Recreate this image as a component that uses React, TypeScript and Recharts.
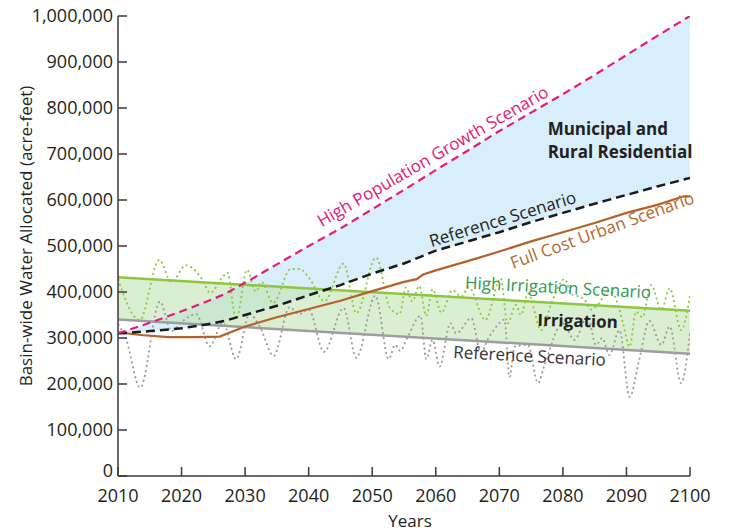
import React from 'react';
import { ComposedChart, Line, Area, XAxis, YAxis, ReferenceDot, Label } from 'recharts';

const FONT = '"Open Sans", "Noto Sans", sans-serif';

// ---- data (values in acre-feet, thousands) ----
const xTicks = [2010, 2020, 2030, 2040, 2050, 2060, 2070, 2080, 2090, 2100];
const yTicks = [0, 100000, 200000, 300000, 400000, 500000, 600000, 700000, 800000, 900000, 1000000];

const muniYears = [2010, 2015, 2020, 2025, 2027, 2030, 2035, 2040, 2045, 2050, 2055, 2060, 2065, 2070, 2075, 2080, 2085, 2090, 2095, 2100];
const highPop = [310, 333, 358, 385, 397, 420, 460, 500, 538, 580, 622, 665, 707, 750, 790, 830, 872, 915, 958, 1000];
const refMuni = [310, 315, 321, 332, 338, 350, 370, 393, 415, 440, 462, 490, 510, 530, 552, 572, 592, 611, 630, 648];

const fullCostYears = [2010, 2014, 2018, 2022, 2026, 2030, 2035, 2040, 2045, 2050, 2055, 2057, 2058, 2060, 2065, 2070, 2075, 2080, 2085, 2090, 2095, 2099, 2100];
const fullCost = [312, 306, 302, 302, 303, 325, 345, 363, 381, 402, 422, 428, 438, 447, 467, 488, 510, 530, 550, 572, 590, 608, 608];

const irrYears = [2010, 2100];
const highIrr = [432, 359];
const refIrr = [340, 266];

const greenDotYears = [2010, 2013.4, 2016.5, 2018.4, 2020.7, 2023.3, 2024.5, 2026.3, 2027.2, 2028.6, 2030.3, 2031.7, 2032.6, 2034.4, 2037.2, 2038.6, 2040, 2042.5, 2045.5, 2047.5, 2050.6, 2052.8, 2054.3, 2055.3, 2056.3, 2057.4, 2058.5, 2059.5, 2060.9, 2062.6, 2064, 2065.2, 2067.8, 2070.2, 2071.3, 2072.6, 2073.4, 2074.5, 2076.6, 2078.3, 2080.3, 2081.3, 2082.1, 2083.4, 2084.4, 2085.3, 2087.3, 2088.5, 2089.5, 2090.5, 2091.5, 2092.5, 2093.9, 2095.5, 2096.8, 2098.6, 2100];
const greenDotVals = [428, 339, 470, 422, 458, 426, 398, 430, 442, 341, 448, 401, 422, 376, 450, 450, 432, 380, 462, 354, 475, 365, 352, 410, 380, 413, 348, 406, 355, 404, 390, 410, 339, 430, 332, 372, 350, 397, 317, 380, 428, 395, 392, 383, 362, 370, 402, 380, 330, 281, 357, 345, 415, 361, 408, 317, 392];

const grayDotYears = [2010, 2011.2, 2013.5, 2016.6, 2018.4, 2020, 2022.3, 2024.4, 2026.5, 2028.6, 2030.7, 2032.3, 2034.5, 2037, 2038.5, 2040, 2042.4, 2045.5, 2047.5, 2050.5, 2052.6, 2053.6, 2054.4, 2055.5, 2057.6, 2058.5, 2059.5, 2060.6, 2062.3, 2063.2, 2065.6, 2067.1, 2068.3, 2070, 2070.8, 2071.6, 2072.4, 2074.5, 2076.1, 2077.1, 2080, 2081.8, 2083.9, 2085.2, 2086.2, 2087.3, 2088.9, 2090.5, 2092, 2093.6, 2095.5, 2096.8, 2098.6, 2100];
const grayDotVals = [330, 300, 192, 379, 315, 335, 352, 282, 333, 254, 352, 325, 261, 367, 352, 362, 270, 365, 257, 392, 254, 285, 272, 300, 348, 254, 296, 238, 332, 310, 343, 268, 300, 332, 340, 215, 281, 285, 202, 241, 332, 296, 346, 285, 300, 263, 317, 172, 252, 337, 285, 325, 202, 310];

// annotation anchors (data coordinates)
const annotations = [
  { lines: ['High Population Growth Scenario'], year: 2060.0, value: 684000, angle: -30, color: '#e0197d', weight: 400, anchor: 'middle' },
  { lines: ['Reference Scenario'], year: 2070.8, value: 546000, angle: -17, color: '#231f20', weight: 400, anchor: 'middle' },
  { lines: ['Full Cost Urban Scenario'], year: 2086.5, value: 522000, angle: -20, color: '#b8672e', weight: 400, anchor: 'middle' },
  { lines: ['High Irrigation Scenario'], year: 2079.2, value: 397000, angle: 3, color: '#2f9a4a', weight: 400, anchor: 'middle' },
  { lines: ['Irrigation'], year: 2082.3, value: 324000, angle: 1.5, color: '#231f20', weight: 700, anchor: 'middle' },
  { lines: ['Reference Scenario'], year: 2074.7, value: 248000, angle: 3, color: '#333333', weight: 400, anchor: 'middle' },
  { lines: ['Municipal and', 'Rural Residential'], year: 2077.6, value: 741000, angle: 0, color: '#231f20', weight: 700, anchor: 'start' },
];

// ---- derived tables ----
const k = (v: number) => v * 1000;
const muniArea = muniYears.map((y, i) => ({ year: y, range: [k(refMuni[i]), k(highPop[i])] }));
const highPopData = muniYears.map((y, i) => ({ year: y, v: k(highPop[i]) }));
const refMuniData = muniYears.map((y, i) => ({ year: y, v: k(refMuni[i]) }));
const fullCostData = fullCostYears.map((y, i) => ({ year: y, v: k(fullCost[i]) }));
const irrArea = irrYears.map((y, i) => ({ year: y, range: [k(refIrr[i]), k(highIrr[i])] }));
const highIrrData = irrYears.map((y, i) => ({ year: y, v: k(highIrr[i]) }));
const refIrrData = irrYears.map((y, i) => ({ year: y, v: k(refIrr[i]) }));
const greenDotData = greenDotYears.map((y, i) => ({ year: y, v: k(greenDotVals[i]) }));
const grayDotData = grayDotYears.map((y, i) => ({ year: y, v: k(grayDotVals[i]) }));

const fmt = (n: number) => n.toLocaleString('en-US');
const AXIS = '#3a3a3a';
const TXT = '#231f20';

const YTick = (props: any) => {
  const { x, y, payload } = props;
  const isZero = payload.value === 0;
  return (
    <g>
      <line x1={x} y1={y} x2={x + 9} y2={y} stroke={AXIS} strokeWidth={1.5} />
      <text x={x - 5} y={isZero ? y - 5 : y} dy="0.36em" textAnchor="end" fontSize={18} fontFamily={FONT} fill={TXT}>
        {fmt(payload.value)}
      </text>
    </g>
  );
};

const XTick = (props: any) => {
  const { x, y, payload } = props;
  return (
    <g>
      <line x1={x} y1={y} x2={x} y2={y - 9} stroke={AXIS} strokeWidth={1.5} />
      <text x={x} y={y + 26} textAnchor="middle" fontSize={18} fontFamily={FONT} fill={TXT}>
        {payload.value}
      </text>
    </g>
  );
};

const annoShape = (a: any) => (p: any) => {
  const { cx, cy } = p;
  return (
    <text
      x={cx}
      y={cy}
      transform={`rotate(${a.angle} ${cx} ${cy})`}
      textAnchor={a.anchor}
      fontSize={17}
      fontFamily={FONT}
      fontWeight={a.weight}
      fill={a.color}
    >
      {a.lines.map((l: string, i: number) => (
        <tspan key={i} x={cx} dy={i === 0 ? 0 : 23}>
          {l}
        </tspan>
      ))}
    </text>
  );
};

export default function App() {
  return (
    <div style={{ position: 'fixed', left: 0, top: 0, background: '#fff' }}>
      <ComposedChart width={730} height={531} margin={{ top: 16, right: 40, bottom: 0, left: 18 }}>
        <XAxis
          type="number"
          dataKey="year"
          domain={[2010, 2100]}
          ticks={xTicks}
          allowDataOverflow
          height={55}
          tickSize={0}
          tickMargin={0}
          tickLine={false}
          tick={<XTick />}
          axisLine={{ stroke: AXIS, strokeWidth: 1.5 }}
          interval={0}
        >
          <Label
            content={(p: any) => {
              const vb = p.viewBox;
              return (
                <text x={vb.x + vb.width / 2 + 6} y={vb.y + 51} textAnchor="middle" fontSize={17} fontFamily={FONT} fill={TXT}>
                  Years
                </text>
              );
            }}
          />
        </XAxis>
        <YAxis
          type="number"
          domain={[0, 1000000]}
          ticks={yTicks}
          allowDataOverflow
          width={100}
          tickSize={0}
          tickMargin={0}
          tickLine={false}
          tick={<YTick />}
          axisLine={{ stroke: AXIS, strokeWidth: 1.5 }}
          interval={0}
        >
          <Label
            content={(p: any) => {
              const vb = p.viewBox;
              const cx = 32;
              const cy = vb.y + vb.height / 2 - 10;
              return (
                <text x={cx} y={cy} transform={`rotate(-90 ${cx} ${cy})`} textAnchor="middle" fontSize={17} fontFamily={FONT} fill={TXT}>
                  Basin-wide Water Allocated (acre-feet)
                </text>
              );
            }}
          />
        </YAxis>

        <Area data={muniArea} dataKey="range" type="linear" stroke="none" fill="#d8eefb" fillOpacity={1} isAnimationActive={false} />
        <Area data={irrArea} dataKey="range" type="linear" stroke="none" fill="#c2e2b4" fillOpacity={0.6} isAnimationActive={false} />

        <Line data={grayDotData} dataKey="v" type="monotone" stroke="#9a9a9a" strokeWidth={1.8} strokeDasharray="2 3" dot={false} isAnimationActive={false} />
        <Line data={greenDotData} dataKey="v" type="monotone" stroke="#8dc63f" strokeWidth={1.8} strokeDasharray="2 3" dot={false} isAnimationActive={false} />

        <Line data={refIrrData} dataKey="v" type="linear" stroke="#9d9d9d" strokeWidth={2.5} dot={false} isAnimationActive={false} />
        <Line data={highIrrData} dataKey="v" type="linear" stroke="#8dc63f" strokeWidth={2.5} dot={false} isAnimationActive={false} />
        <Line data={fullCostData} dataKey="v" type="linear" stroke="#b5622a" strokeWidth={2.2} dot={false} isAnimationActive={false} />
        <Line data={refMuniData} dataKey="v" type="linear" stroke="#1a1a1a" strokeWidth={2.5} strokeDasharray="9 5" dot={false} isAnimationActive={false} />
        <Line data={highPopData} dataKey="v" type="linear" stroke="#e31c79" strokeWidth={2.2} strokeDasharray="8 5" dot={false} isAnimationActive={false} />

        {annotations.map((a, i) => (
          <ReferenceDot key={i} x={a.year} y={a.value} r={1} shape={annoShape(a)} ifOverflow="visible" />
        ))}
      </ComposedChart>
    </div>
  );
}
